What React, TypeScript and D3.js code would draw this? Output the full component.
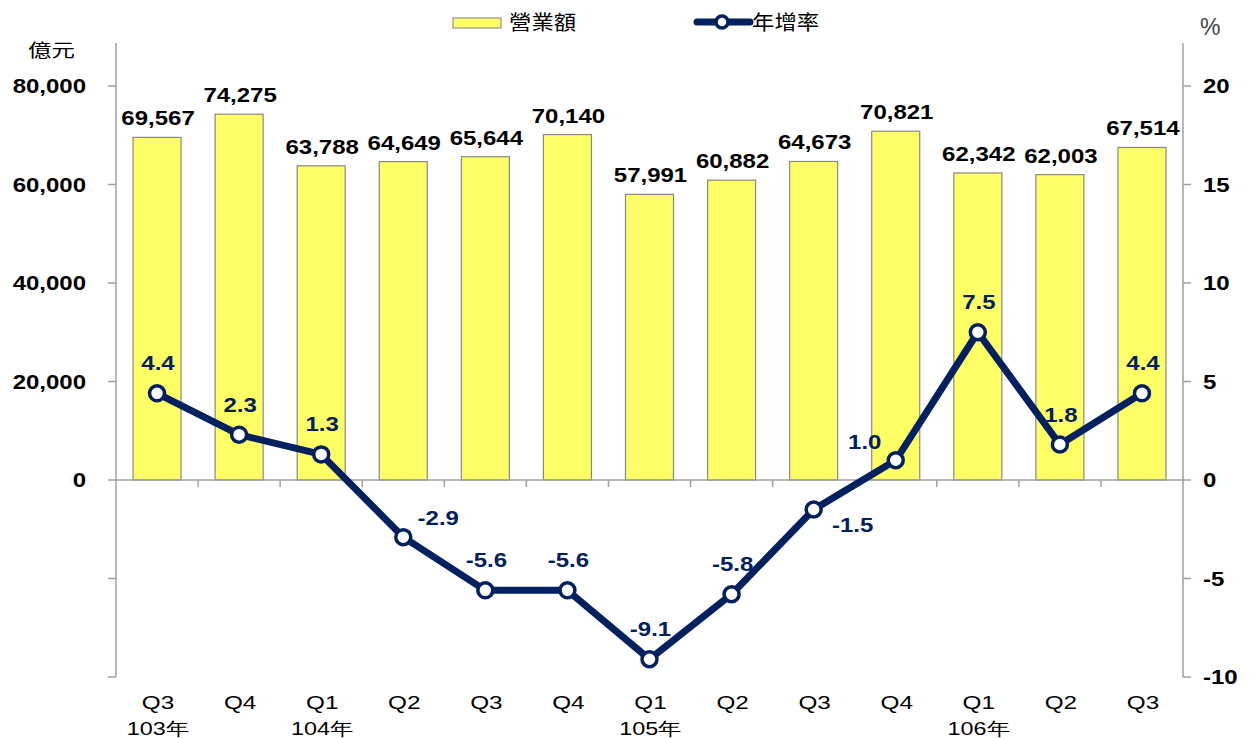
import React from "react";
import * as d3 from "d3";

const quarters = ["Q3", "Q4", "Q1", "Q2", "Q3", "Q4", "Q1", "Q2", "Q3", "Q4", "Q1", "Q2", "Q3"];
const years = ["103年", "", "104年", "", "", "", "105年", "", "", "", "106年", "", ""];
const revenue = [69567, 74275, 63788, 64649, 65644, 70140, 57991, 60882, 64673, 70821, 62342, 62003, 67514];
const growth = [4.4, 2.3, 1.3, -2.9, -5.6, -5.6, -9.1, -5.8, -1.5, 1.0, 7.5, 1.8, 4.4];
const leftTicks = [-40000, -20000, 0, 20000, 40000, 60000, 80000];
const rightTicks = [-10, -5, 0, 5, 10, 15, 20];

// where each growth label sits relative to its point
const placement = ["up", "up", "up", "upRight", "up", "up", "up", "up", "downRight", "upLeft", "up", "up", "up"];

const W = 1251;
const H = 738;
const left = 116;
const right = 1183;
const top = 43;
const bottom = 677;

const navy = "#002060";
const axisGray = "#a0a0a0";
const font = "'Liberation Sans', Arial, sans-serif";
const cjk = "'Noto Sans CJK TC', sans-serif";

// text stretched horizontally, like the source image
function SText(props: { x: number; y: number; sx?: number; anchor?: string; size: number; bold?: boolean; fill?: string; family?: string; dy?: string; children: React.ReactNode }) {
  const { x, y, sx = 1.2, anchor = "middle", size, bold, fill = "#000", family = font, dy } = props;
  return (
    <text transform={`translate(${x},${y}) scale(${sx},1)`} dy={dy} textAnchor={anchor}
      fontFamily={family} fontSize={size} fontWeight={bold ? "bold" : "normal"} fill={fill}>
      {props.children}
    </text>
  );
}

export default function App() {
  const x = d3.scaleBand<number>()
    .domain(d3.range(quarters.length))
    .range([left, right])
    .paddingInner(0.415)
    .paddingOuter(0.2075);
  const step = x.step();
  const cx = (i: number) => (x(i) as number) + x.bandwidth() / 2;

  const yL = d3.scaleLinear().domain([-40000, 80000]).range([bottom, 86]);
  const yR = d3.scaleLinear().domain([-10, 20]).range([bottom, 86]);
  const y0 = yL(0);

  const line = d3.line<number>()
    .x((_, i) => cx(i))
    .y(d => yR(d));

  const fmt = d3.format(",");

  const offset = (p: string) => {
    if (p === "upRight") return { dx: 34, dy: -12 };
    if (p === "downRight") return { dx: 38, dy: 22 };
    if (p === "upLeft") return { dx: -32, dy: -11 };
    return { dx: 0, dy: -23 };
  };

  return (
    <svg width={W} height={H} style={{ position: "absolute", left: 0, top: 0, background: "#fff" }}>
      {/* legend */}
      <rect x={453} y={18} width={48} height={10} fill="#ffff66" stroke="#808080" strokeWidth={1} />
      <SText x={509} y={30} anchor="start" size={20} sx={1.12} family={cjk}>營業額</SText>
      <line x1={697} x2={750} y1={22} y2={22} stroke={navy} strokeWidth={7} strokeLinecap="round" />
      <circle cx={722} cy={22} r={6} fill="#fff" stroke={navy} strokeWidth={3.5} />
      <SText x={752} y={30} anchor="start" size={20} sx={1.12} family={cjk}>年增率</SText>

      <SText x={28} y={57} anchor="start" size={18} sx={1.3} family={cjk}>億元</SText>
      <text x={1200} y={35} fontFamily={font} fontSize={23} fill="#444">%</text>

      {/* bars */}
      {revenue.map((v, i) => (
        <rect key={"b" + i} x={x(i)} y={yL(v)} width={x.bandwidth()} height={y0 - yL(v)}
          fill="#ffff66" stroke="#888" strokeWidth={1.2} />
      ))}

      {/* axes */}
      <line x1={left} x2={left} y1={top} y2={bottom} stroke={axisGray} strokeWidth={1.5} />
      {leftTicks.map(t => (
        <g key={"l" + t}>
          <line x1={left - 8} x2={left} y1={yL(t)} y2={yL(t)} stroke={axisGray} strokeWidth={1.5} />
          {t >= 0 && (
            <SText x={86} y={yL(t)} dy="0.36em" anchor="end" size={20} bold>{fmt(t)}</SText>
          )}
        </g>
      ))}
      <line x1={right} x2={right} y1={top} y2={bottom} stroke={axisGray} strokeWidth={1.5} />
      {rightTicks.map(t => (
        <g key={"r" + t}>
          <line x1={right} x2={right + 8} y1={yR(t)} y2={yR(t)} stroke={axisGray} strokeWidth={1.5} />
          <SText x={1203} y={yR(t)} dy="0.36em" anchor="start" size={20} bold>{t}</SText>
        </g>
      ))}
      <line x1={left} x2={right} y1={y0} y2={y0} stroke={axisGray} strokeWidth={1.5} />
      {d3.range(1, quarters.length).map(i => (
        <line key={"xt" + i} x1={left + step * i} x2={left + step * i} y1={y0} y2={y0 + 7} stroke={axisGray} strokeWidth={1.5} />
      ))}

      {/* bar labels */}
      {revenue.map((v, i) => (
        <SText key={"bl" + i} x={cx(i) + 1} y={yL(v) - 12} size={20} bold>{fmt(v)}</SText>
      ))}

      {/* growth line */}
      <path d={line(growth) || ""} fill="none" stroke={navy} strokeWidth={7} strokeLinejoin="round" />
      {growth.map((v, i) => (
        <circle key={"c" + i} cx={cx(i)} cy={yR(v)} r={7.5} fill="#fff" stroke={navy} strokeWidth={3.5} />
      ))}
      {growth.map((v, i) => {
        const o = offset(placement[i]);
        return (
          <SText key={"gl" + i} x={cx(i) + o.dx + 1} y={yR(v) + o.dy} size={20} bold fill={navy}>{v.toFixed(1)}</SText>
        );
      })}

      {/* category labels */}
      {quarters.map((q, i) => (
        <g key={"q" + i}>
          <SText x={cx(i) + 1} y={709} size={18} sx={1.35}>{q}</SText>
          {years[i] && (
            <SText x={cx(i) + 1} y={735} size={18} sx={1.3}>{years[i]}</SText>
          )}
        </g>
      ))}
    </svg>
  );
}
